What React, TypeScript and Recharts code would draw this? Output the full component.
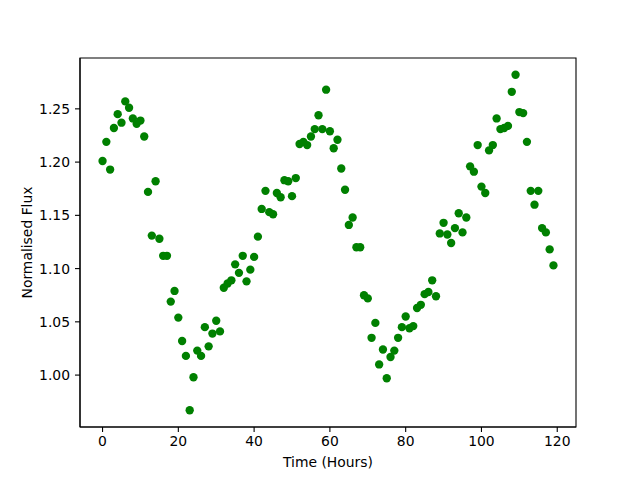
import React from "react";
import { ScatterChart, Scatter, XAxis, YAxis, Label, ReferenceArea } from "recharts";

const hours = [
  0, 1, 2, 3, 4, 5, 6, 7, 8, 9, 10, 11, 12, 13, 14, 15, 16, 17, 18, 19,
  20, 21, 22, 23, 24, 25, 26, 27, 28, 29, 30, 31, 32, 33, 34, 35, 36, 37, 38, 39,
  40, 41, 42, 43, 44, 45, 46, 47, 48, 49, 50, 51, 52, 53, 54, 55, 56, 57, 58, 59,
  60, 61, 62, 63, 64, 65, 66, 67, 68, 69, 70, 71, 72, 73, 74, 75, 76, 77, 78, 79,
  80, 81, 82, 83, 84, 85, 86, 87, 88, 89, 90, 91, 92, 93, 94, 95, 96, 97, 98, 99,
  100, 101, 102, 103, 104, 105, 106, 107, 108, 109, 110, 111, 112, 113, 114, 115, 116, 117, 118, 119,
];

const flux = [
  1.201, 1.219, 1.193, 1.232, 1.245, 1.237, 1.257, 1.251, 1.241, 1.236,
  1.239, 1.224, 1.172, 1.131, 1.182, 1.128, 1.112, 1.112, 1.069, 1.079,
  1.054, 1.032, 1.018, 0.967, 0.998, 1.023, 1.018, 1.045, 1.027, 1.039,
  1.051, 1.041, 1.082, 1.086, 1.089, 1.104, 1.096, 1.112, 1.088, 1.099,
  1.111, 1.130, 1.156, 1.173, 1.153, 1.151, 1.171, 1.167, 1.183, 1.182,
  1.168, 1.185, 1.217, 1.219, 1.216, 1.224, 1.231, 1.244, 1.231, 1.268,
  1.229, 1.213, 1.221, 1.194, 1.174, 1.141, 1.148, 1.120, 1.120, 1.075,
  1.072, 1.035, 1.049, 1.010, 1.024, 0.997, 1.017, 1.023, 1.035, 1.045,
  1.055, 1.044, 1.046, 1.063, 1.066, 1.076, 1.078, 1.089, 1.074, 1.133,
  1.143, 1.132, 1.124, 1.138, 1.152, 1.134, 1.148, 1.196, 1.191, 1.216,
  1.177, 1.171, 1.211, 1.216, 1.241, 1.231, 1.232, 1.234, 1.266, 1.282,
  1.247, 1.246, 1.219, 1.173, 1.160, 1.173, 1.138, 1.134, 1.118, 1.103,
];

const xTicks = [0, 20, 40, 60, 80, 100, 120];
const yTicks = [1.0, 1.05, 1.1, 1.15, 1.2, 1.25];
const xDomain = [-5.95, 124.95];
const yDomain = [0.95125, 1.29775];

const data = hours.map((h, i) => ({ hour: h, flux: flux[i] }));

const font = "DejaVu Sans, sans-serif";
const tickStyle = { fill: "#000", fontSize: 13.9, fontFamily: font };

const Dot = (props: any) => (
  <circle cx={props.cx} cy={props.cy} r={4.17} fill="#008000" />
);

export default function App() {
  return (
    <div style={{ position: "absolute", left: 0, top: 0, width: 640, height: 480, background: "#fff" }}>
      <ScatterChart
        width={640}
        height={480}
        margin={{ top: 58, right: 64, bottom: 0, left: 0 }}
      >
        <ReferenceArea
          x1={xDomain[0]}
          x2={xDomain[1]}
          y1={yDomain[0]}
          y2={yDomain[1]}
          fill="none"
          stroke="#000"
          strokeWidth={1.1}
          fillOpacity={0}
          ifOverflow="visible"
        />
        <XAxis
          type="number"
          dataKey="hour"
          domain={xDomain}
          ticks={xTicks}
          allowDataOverflow
          height={53}
          tickSize={5}
          tickMargin={4}
          tick={tickStyle}
          axisLine={{ stroke: "#000", strokeWidth: 1.1 }}
          tickLine={{ stroke: "#000", strokeWidth: 1.1 }}
        >
          <Label
            value="Time (Hours)"
            position="insideBottom"
            offset={13}
            style={{ fill: "#000", fontSize: 13.9, fontFamily: font }}
          />
        </XAxis>
        <YAxis
          type="number"
          dataKey="flux"
          domain={yDomain}
          ticks={yTicks}
          allowDataOverflow
          width={80}
          tickSize={5}
          tickMargin={5}
          tick={tickStyle}
          tickFormatter={(v: number) => v.toFixed(2)}
          axisLine={{ stroke: "#000", strokeWidth: 1.1 }}
          tickLine={{ stroke: "#000", strokeWidth: 1.1 }}
        >
          <Label
            content={(p: any) => {
              const vb = p.viewBox || { x: 0, y: 58, width: 80, height: 369 };
              const cx = vb.x + 27;
              const cy = vb.y + vb.height / 2;
              return (
                <text
                  x={cx}
                  y={cy}
                  transform={`rotate(-90 ${cx} ${cy})`}
                  textAnchor="middle"
                  dominantBaseline="central"
                  fill="#000"
                  fontSize={13.9}
                  fontFamily={font}
                >
                  Normalised Flux
                </text>
              );
            }}
          />
        </YAxis>
        <Scatter data={data} shape={Dot} isAnimationActive={false} />
      </ScatterChart>
    </div>
  );
}
